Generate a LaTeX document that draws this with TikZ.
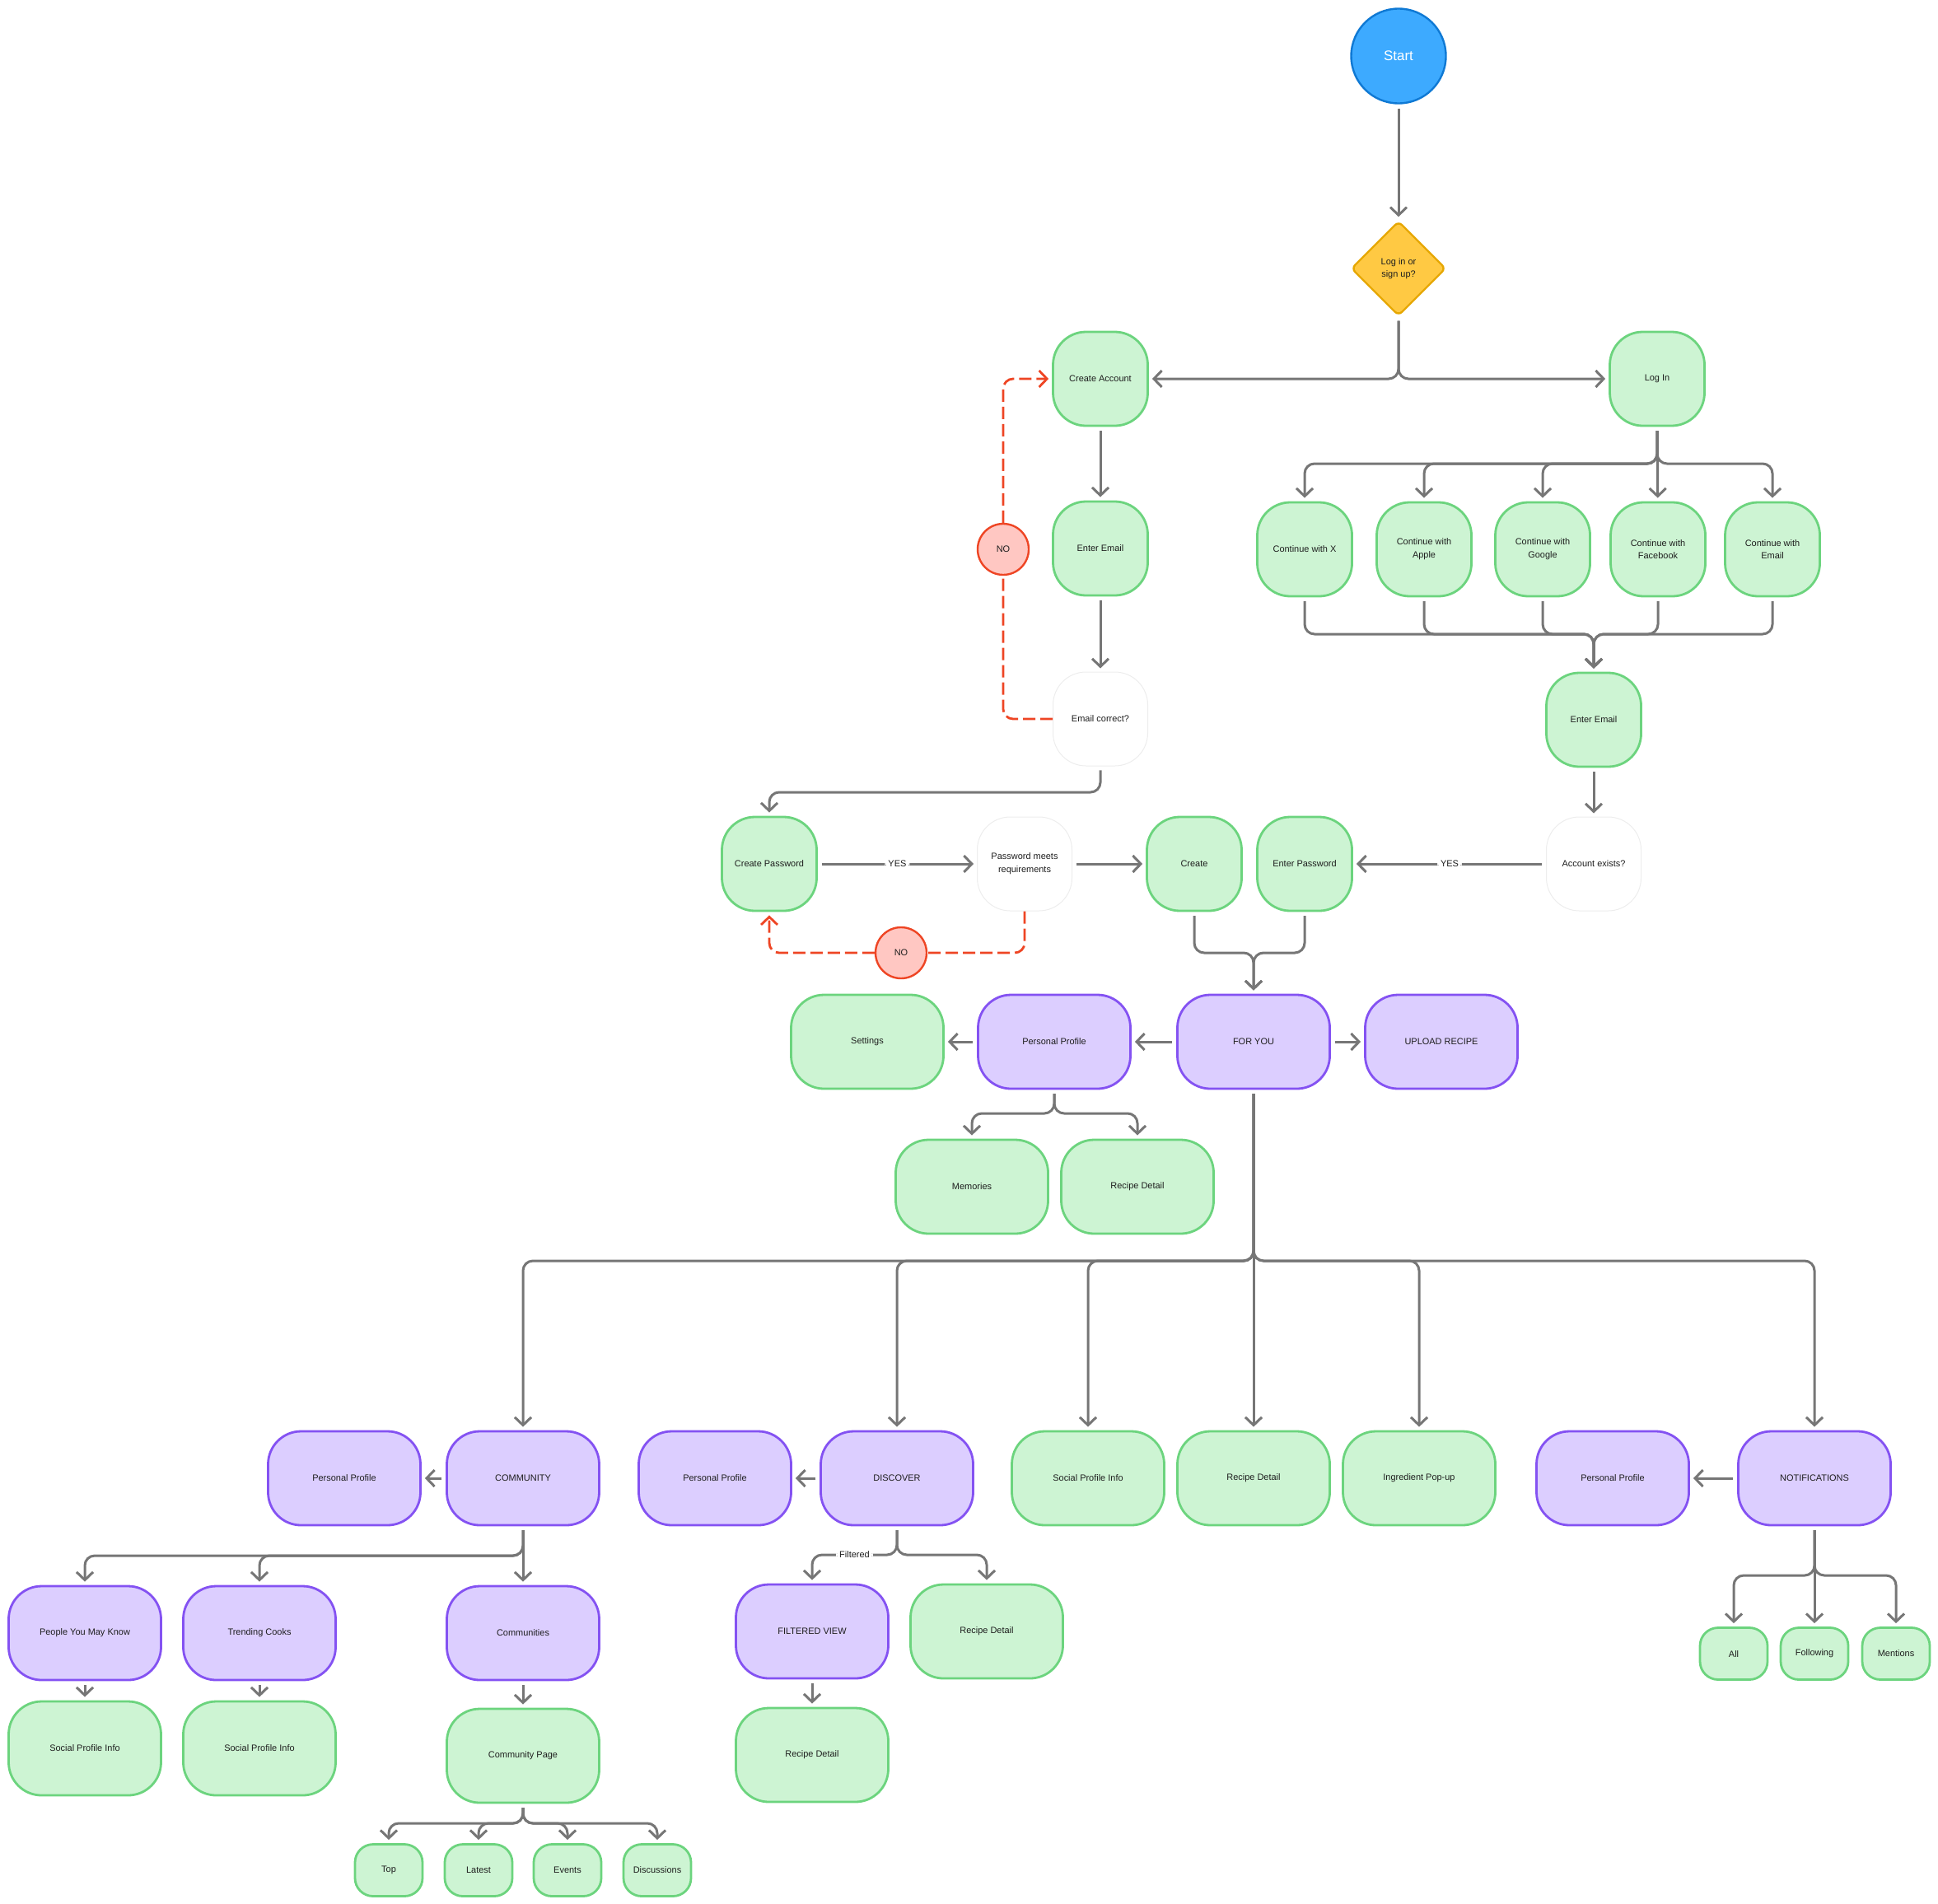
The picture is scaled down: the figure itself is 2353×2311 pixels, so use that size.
\documentclass[tikz,border=0pt]{standalone}
\definecolor{flowgray}{HTML}{767676}
\definecolor{boxgreen}{HTML}{CDF4D3}
\definecolor{edgegreen}{HTML}{6CD47E}
\definecolor{boxpurple}{HTML}{DCCEFF}
\definecolor{edgepurple}{HTML}{8452F2}
\definecolor{startblue}{HTML}{3DAAFF}
\definecolor{edgeblue}{HTML}{0F79D4}
\definecolor{askyellow}{HTML}{FFC943}
\definecolor{edgeyellow}{HTML}{E6A700}
\definecolor{nored}{HTML}{FFC7C2}
\definecolor{edgered}{HTML}{EE4524}
\definecolor{inkgray}{HTML}{1E1E1E}
\usepackage{fontspec}
\setmainfont{Liberation Sans}
\usetikzlibrary{shapes.geometric, arrows.meta}

\begin{document}
\begin{tikzpicture}[
  x=0.25mm, y=-0.25mm,
  font=\fontsize{7.8}{11.2}\selectfont, text=inkgray,
  boxbase/.style={draw, line width=0.7mm, rounded corners=10mm, align=center, inner sep=2pt, minimum width=28.75mm, minimum height=28.5mm},
  gbox/.style={boxbase, fill=boxgreen, draw=edgegreen},
  pbox/.style={boxbase, fill=boxpurple, draw=edgepurple},
  qbox/.style={boxbase, fill=white, draw=black!7, line width=0.25mm},
  widebox/.style={minimum width=46.25mm},
  chip/.style={minimum width=20.5mm, minimum height=15.75mm, rounded corners=5.5mm},
  startc/.style={circle, fill=startblue, draw=edgeblue, line width=0.6mm, minimum size=28.75mm, inner sep=0pt, text=white, font=\fontsize{12}{14}\selectfont},
  decide/.style={diamond, fill=askyellow, draw=edgeyellow, line width=0.6mm, minimum width=28.75mm, minimum height=28.75mm, inner sep=0pt, rounded corners=1.5mm, align=center, font=\fontsize{7.8}{10.8}\selectfont},
  nocirc/.style={ellipse, fill=nored, draw=edgered, line width=0.6mm, minimum width=15.5mm, minimum height=15.5mm, inner sep=0pt},
  flow/.style={draw=flowgray, line width=0.75mm, rounded corners=3mm, shorten <=1.2mm, shorten >=1mm, -{Straight Barb[length=2.4mm,width=5mm]}},
  nodash/.style={draw=edgered, line width=0.7mm, rounded corners=3mm, dash pattern=on 3.75mm off 1.5mm},
  lbl/.style={fill=white, inner sep=1mm, font=\fontsize{7.8}{9}\selectfont}
]
  \useasboundingbox (0,0) rectangle (2353,2311);

  % sign in / sign up
  \node[startc] (start) at (1698,68) {Start};
  \node[decide] (ask) at (1698,326) {Log in or\\sign up?};
  \node[gbox] (newacc) at (1336,460) {Create Account};
  \node[gbox] (login) at (2012,460) {Log In};
  \node[gbox] (mailA) at (1336,666) {Enter Email};
  \node[nocirc] (noA) at (1218,667) {NO};
  \node[qbox] (mailok) at (1336,873) {Email correct?};
  \node[gbox] (withx) at (1584,667) {Continue with X};
  \node[gbox] (withapple) at (1729,667) {Continue with\\Apple};
  \node[gbox] (withgoogle) at (1873,667) {Continue with\\Google};
  \node[gbox] (withfb) at (2013,667) {Continue with\\Facebook};
  \node[gbox] (withmail) at (2152,667) {Continue with\\Email};
  \node[gbox] (mailB) at (1935,874) {Enter Email};
  \node[qbox] (exists) at (1935,1049) {Account exists?};
  \node[gbox] (enterpw) at (1584,1049) {Enter Password};
  \node[gbox] (create) at (1450,1049) {Create};
  \node[qbox] (pwok) at (1244,1049) {Password meets\\requirements};
  \node[gbox] (newpw) at (934,1049) {Create Password};
  \node[nocirc] (noB) at (1094,1157) {NO};

  % home
  \node[gbox, widebox] (settings) at (1053,1265) {Settings};
  \node[pbox, widebox] (profile) at (1280,1265) {Personal Profile};
  \node[pbox, widebox] (foryou) at (1522,1265) {FOR YOU};
  \node[pbox, widebox] (upload) at (1750,1265) {UPLOAD RECIPE};
  \node[gbox, widebox] (memories) at (1180,1441) {Memories};
  \node[gbox, widebox] (recipeA) at (1381,1441) {Recipe Detail};

  % tabs
  \node[pbox, widebox] (profileC) at (418,1795) {Personal Profile};
  \node[pbox, widebox] (community) at (635,1795) {COMMUNITY};
  \node[pbox, widebox] (profileD) at (868,1795) {Personal Profile};
  \node[pbox, widebox] (discover) at (1089,1795) {DISCOVER};
  \node[gbox, widebox] (socialA) at (1321,1795) {Social Profile Info};
  \node[gbox, widebox] (recipeB) at (1522,1795) {Recipe Detail};
  \node[gbox, widebox] (ingredient) at (1723,1795) {Ingredient Pop-up};
  \node[pbox, widebox] (profileN) at (1958,1795) {Personal Profile};
  \node[pbox, widebox] (notif) at (2203,1795) {NOTIFICATIONS};

  \node[pbox, widebox] (people) at (103,1983) {People You May Know};
  \node[pbox, widebox] (trending) at (315,1983) {Trending Cooks};
  \node[pbox, widebox] (communities) at (635,1983) {Communities};
  \node[gbox, widebox] (socialB) at (103,2123) {Social Profile Info};
  \node[gbox, widebox] (socialC) at (315,2123) {Social Profile Info};
  \node[gbox, widebox] (commpage) at (635,2132) {Community Page};
  \node[gbox, chip] (top) at (472,2271) {Top};
  \node[gbox, chip] (latest) at (581,2271) {Latest};
  \node[gbox, chip] (events) at (689,2271) {Events};
  \node[gbox, chip] (discuss) at (798,2271) {Discussions};

  \node[pbox, widebox] (filtered) at (986,1981) {FILTERED VIEW};
  \node[gbox, widebox] (recipeC) at (1198,1981) {Recipe Detail};
  \node[gbox, widebox] (recipeD) at (986,2131) {Recipe Detail};

  \node[gbox, chip] (all) at (2105,2008) {All};
  \node[gbox, chip] (following) at (2203,2008) {Following};
  \node[gbox, chip] (mentions) at (2302,2008) {Mentions};

  % junction levels
  \coordinate (jLogin) at (0,563);
  \coordinate (jWith) at (0,770);
  \coordinate (jMail) at (0,962);
  \coordinate (jPass) at (0,1157);
  \coordinate (jProfile) at (0,1352);
  \coordinate (jYou) at (0,1531);
  \coordinate (jDisc) at (0,1888);
  \coordinate (jComm) at (0,1889);
  \coordinate (jNotif) at (0,1913);
  \coordinate (jPage) at (0,2214);

  \draw[flow] (start) -- (ask);
  \draw[flow] (ask.south) |- (newacc.east);
  \draw[flow] (ask.south) |- (login.west);
  \draw[flow] (newacc) -- (mailA);
  \draw[flow] (mailA) -- (mailok);
  \draw[flow] (mailok.south) |- (jMail -| newpw) -- (newpw.north);
  \draw[nodash] (mailok.west) -| (noA.south);
  \draw[nodash, -{Straight Barb[length=2.4mm,width=5mm]}, shorten >=1mm] (noA.north) |- (newacc.west);

  \foreach \n in {withx, withapple, withgoogle, withmail}
    \draw[flow] (login.south) |- (jLogin -| \n) -- (\n.north);
  \draw[flow] (login) -- (withfb);
  \foreach \n in {withx, withapple, withgoogle, withfb, withmail}
    \draw[flow] (\n.south) |- (jWith -| mailB) -- (mailB.north);
  \draw[flow] (mailB) -- (exists);
  \draw[flow] (exists) -- node[lbl] {YES} (enterpw);

  \draw[flow] (newpw) -- node[lbl] {YES} (pwok);
  \draw[flow] (pwok) -- (create);
  \draw[nodash] (pwok.south) |- (noB.east);
  \draw[nodash, -{Straight Barb[length=2.4mm,width=5mm]}, shorten >=1mm] (noB.west) -| (newpw.south);

  \draw[flow] (create.south) |- (jPass -| foryou) -- (foryou.north);
  \draw[flow] (enterpw.south) |- (jPass -| foryou) -- (foryou.north);
  \draw[flow] (foryou) -- (profile);
  \draw[flow] (profile) -- (settings);
  \draw[flow] (foryou) -- (upload);
  \foreach \n in {memories, recipeA}
    \draw[flow] (profile.south) |- (jProfile -| \n) -- (\n.north);

  \foreach \n in {community, discover, socialA, ingredient, notif}
    \draw[flow] (foryou.south) |- (jYou -| \n) -- (\n.north);
  \draw[flow] (foryou) -- (recipeB);
  \draw[flow] (community) -- (profileC);
  \draw[flow] (discover) -- (profileD);
  \draw[flow] (notif) -- (profileN);

  \foreach \n in {people, trending}
    \draw[flow] (community.south) |- (jComm -| \n) -- (\n.north);
  \draw[flow] (community) -- (communities);
  \draw[flow] (people) -- (socialB);
  \draw[flow] (trending) -- (socialC);
  \draw[flow] (communities) -- (commpage);
  \foreach \n in {top, latest, events, discuss}
    \draw[flow] (commpage.south) |- (jPage -| \n) -- (\n.north);

  \draw[flow] (discover.south) |- (jDisc -| filtered) node[lbl, pos=0.75] {Filtered} -- (filtered.north);
  \draw[flow] (discover.south) |- (jDisc -| recipeC) -- (recipeC.north);
  \draw[flow] (filtered) -- (recipeD);

  \foreach \n in {all, mentions}
    \draw[flow] (notif.south) |- (jNotif -| \n) -- (\n.north);
  \draw[flow] (notif) -- (following);
\end{tikzpicture}
\end{document}
